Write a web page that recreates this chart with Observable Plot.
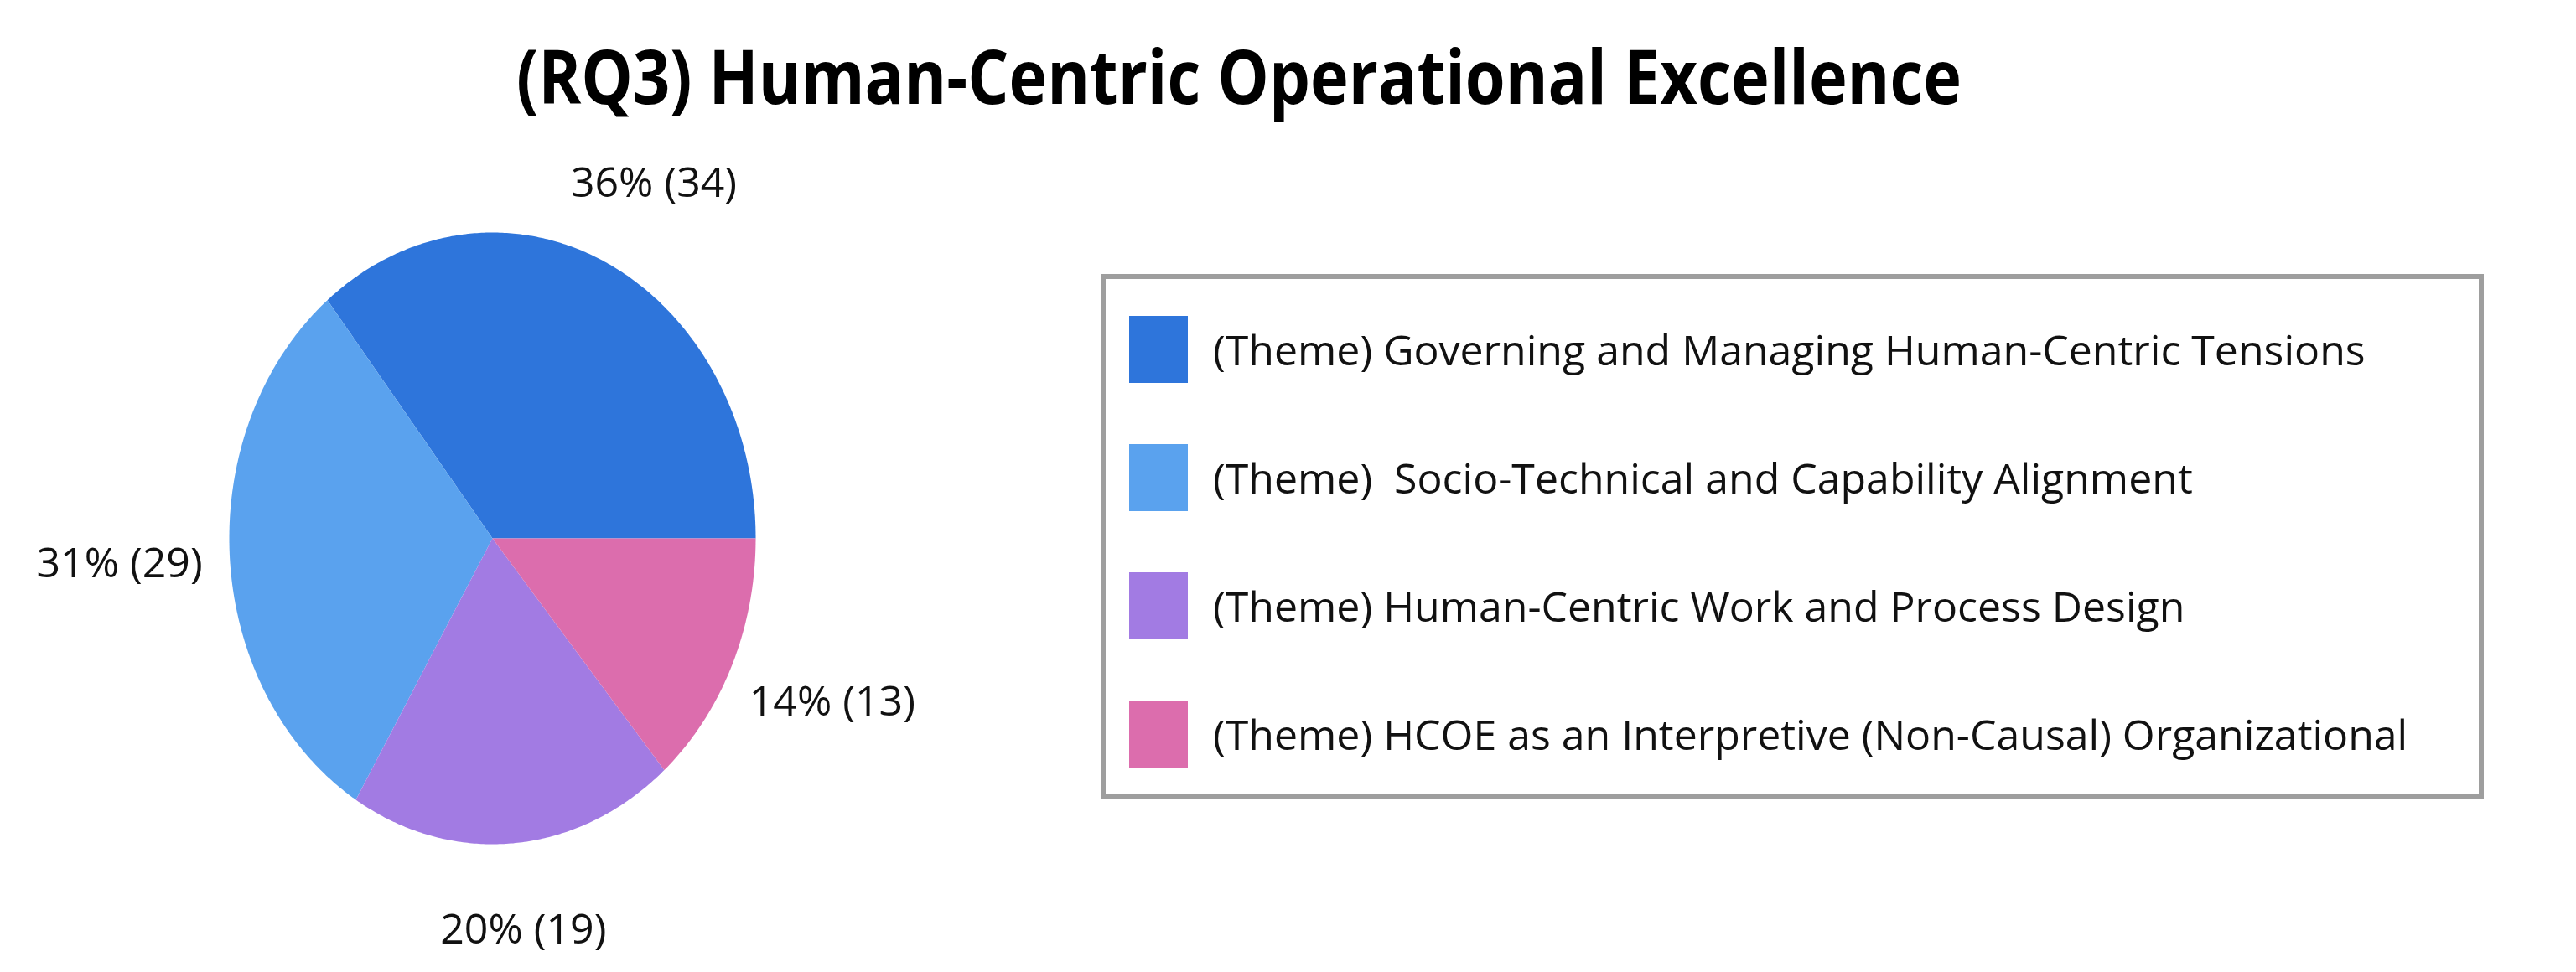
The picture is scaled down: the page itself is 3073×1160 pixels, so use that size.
<!DOCTYPE html>
<html>
<head>
<meta charset="utf-8">
<script src="https://cdn.jsdelivr.net/npm/d3@7"></script>
<script src="https://cdn.jsdelivr.net/npm/@observablehq/plot@0.6"></script>
<style>
  body { margin: 0; background: #ffffff; font-family: "Open Sans", "Noto Sans", sans-serif; color: #111; }
  #page { position: relative; width: 3073px; height: 1160px; overflow: hidden; background: #fff; }
  #title { position: absolute; left: 0; top: 44px; width: 2956px; text-align: center;
           font-weight: 700; font-size: 90px; line-height: 1; color: #000; white-space: nowrap;
           transform: scaleX(0.86); transform-origin: 1478px 50%; }
  #chart { position: absolute; left: 0; top: 160px; }
  #legend { position: absolute; left: 1313px; top: 327px; width: 1650px; height: 626px;
            box-sizing: border-box; border: 6px solid #9e9e9e; background: #fff; }
  .row { position: absolute; left: 28px; height: 90px; display: flex; align-items: center; }
  .sw { width: 70px; height: 80px; flex: none; }
  .lab { margin-left: 30px; font-size: 50px; white-space: pre; color: #111; }
</style>
</head>
<body>
<div id="page">
  <div id="title"></div>
  <div id="chart"></div>
  <div id="legend"></div>
</div>
<script>
// ---- data ----
const chartTitle = "(RQ3) Human-Centric Operational Excellence";
const themes = [
  "(Theme) Governing and Managing Human-Centric Tensions",
  "(Theme)  Socio-Technical and Capability Alignment",
  "(Theme) Human-Centric Work and Process Design",
  "(Theme) HCOE as an Interpretive (Non-Causal) Organizational"
];
const counts = [34, 29, 19, 13];
const colors = ["#2e75db", "#5aa2ee", "#a27be3", "#dc6dad"];

// ---- derived geometry ----
const total = d3.sum(counts);
let cum = 0;
const slices = themes.map((theme, i) => {
  const a0 = cum / total * 2 * Math.PI;
  cum += counts[i];
  const a1 = cum / total * 2 * Math.PI;
  return { theme, count: counts[i], pct: Math.round(counts[i] / total * 100), a0, a1, mid: (a0 + a1) / 2 };
});
const pts = [];
for (const s of slices) {
  pts.push({ theme: s.theme, x: 0, y: 0 });
  const n = Math.max(2, Math.ceil((s.a1 - s.a0) / (Math.PI / 360)));
  for (let k = 0; k <= n; k++) {
    const a = s.a0 + (s.a1 - s.a0) * k / n;
    pts.push({ theme: s.theme, x: Math.cos(a), y: Math.sin(a) });
  }
}

const plot = Plot.plot({
  width: 1300,
  height: 1000,
  marginLeft: 273,
  marginRight: 399,
  marginTop: 117,
  marginBottom: 153,
  x: { domain: [-1, 1], axis: null },
  y: { domain: [-1, 1], axis: null },
  color: { domain: themes, range: colors },
  style: { fontFamily: "Open Sans, Noto Sans, sans-serif", overflow: "visible", background: "transparent" },
  marks: [
    Plot.line(pts, { x: "x", y: "y", z: "theme", fill: "theme", stroke: "none", curve: "linear-closed" }),
    Plot.text(slices, {
      x: d => 1.42 * Math.cos(d.mid),
      y: d => 1.285 * Math.sin(d.mid),
      text: d => `${d.pct}% (${d.count})`,
      fontSize: 50,
      fill: "#111",
      textAnchor: "middle",
      lineAnchor: "middle"
    })
  ]
});
document.getElementById("chart").appendChild(plot);
document.getElementById("title").textContent = chartTitle;

const color = plot.scale("color");
const legend = document.getElementById("legend");
themes.forEach((t, i) => {
  const row = document.createElement("div");
  row.className = "row";
  row.style.top = (90 + 153 * i - 45 - 6) + "px";
  const sw = document.createElement("div");
  sw.className = "sw";
  sw.style.background = color.apply(t);
  const lab = document.createElement("div");
  lab.className = "lab";
  lab.textContent = t;
  row.appendChild(sw);
  row.appendChild(lab);
  legend.appendChild(row);
});
</script>
</body>
</html>
